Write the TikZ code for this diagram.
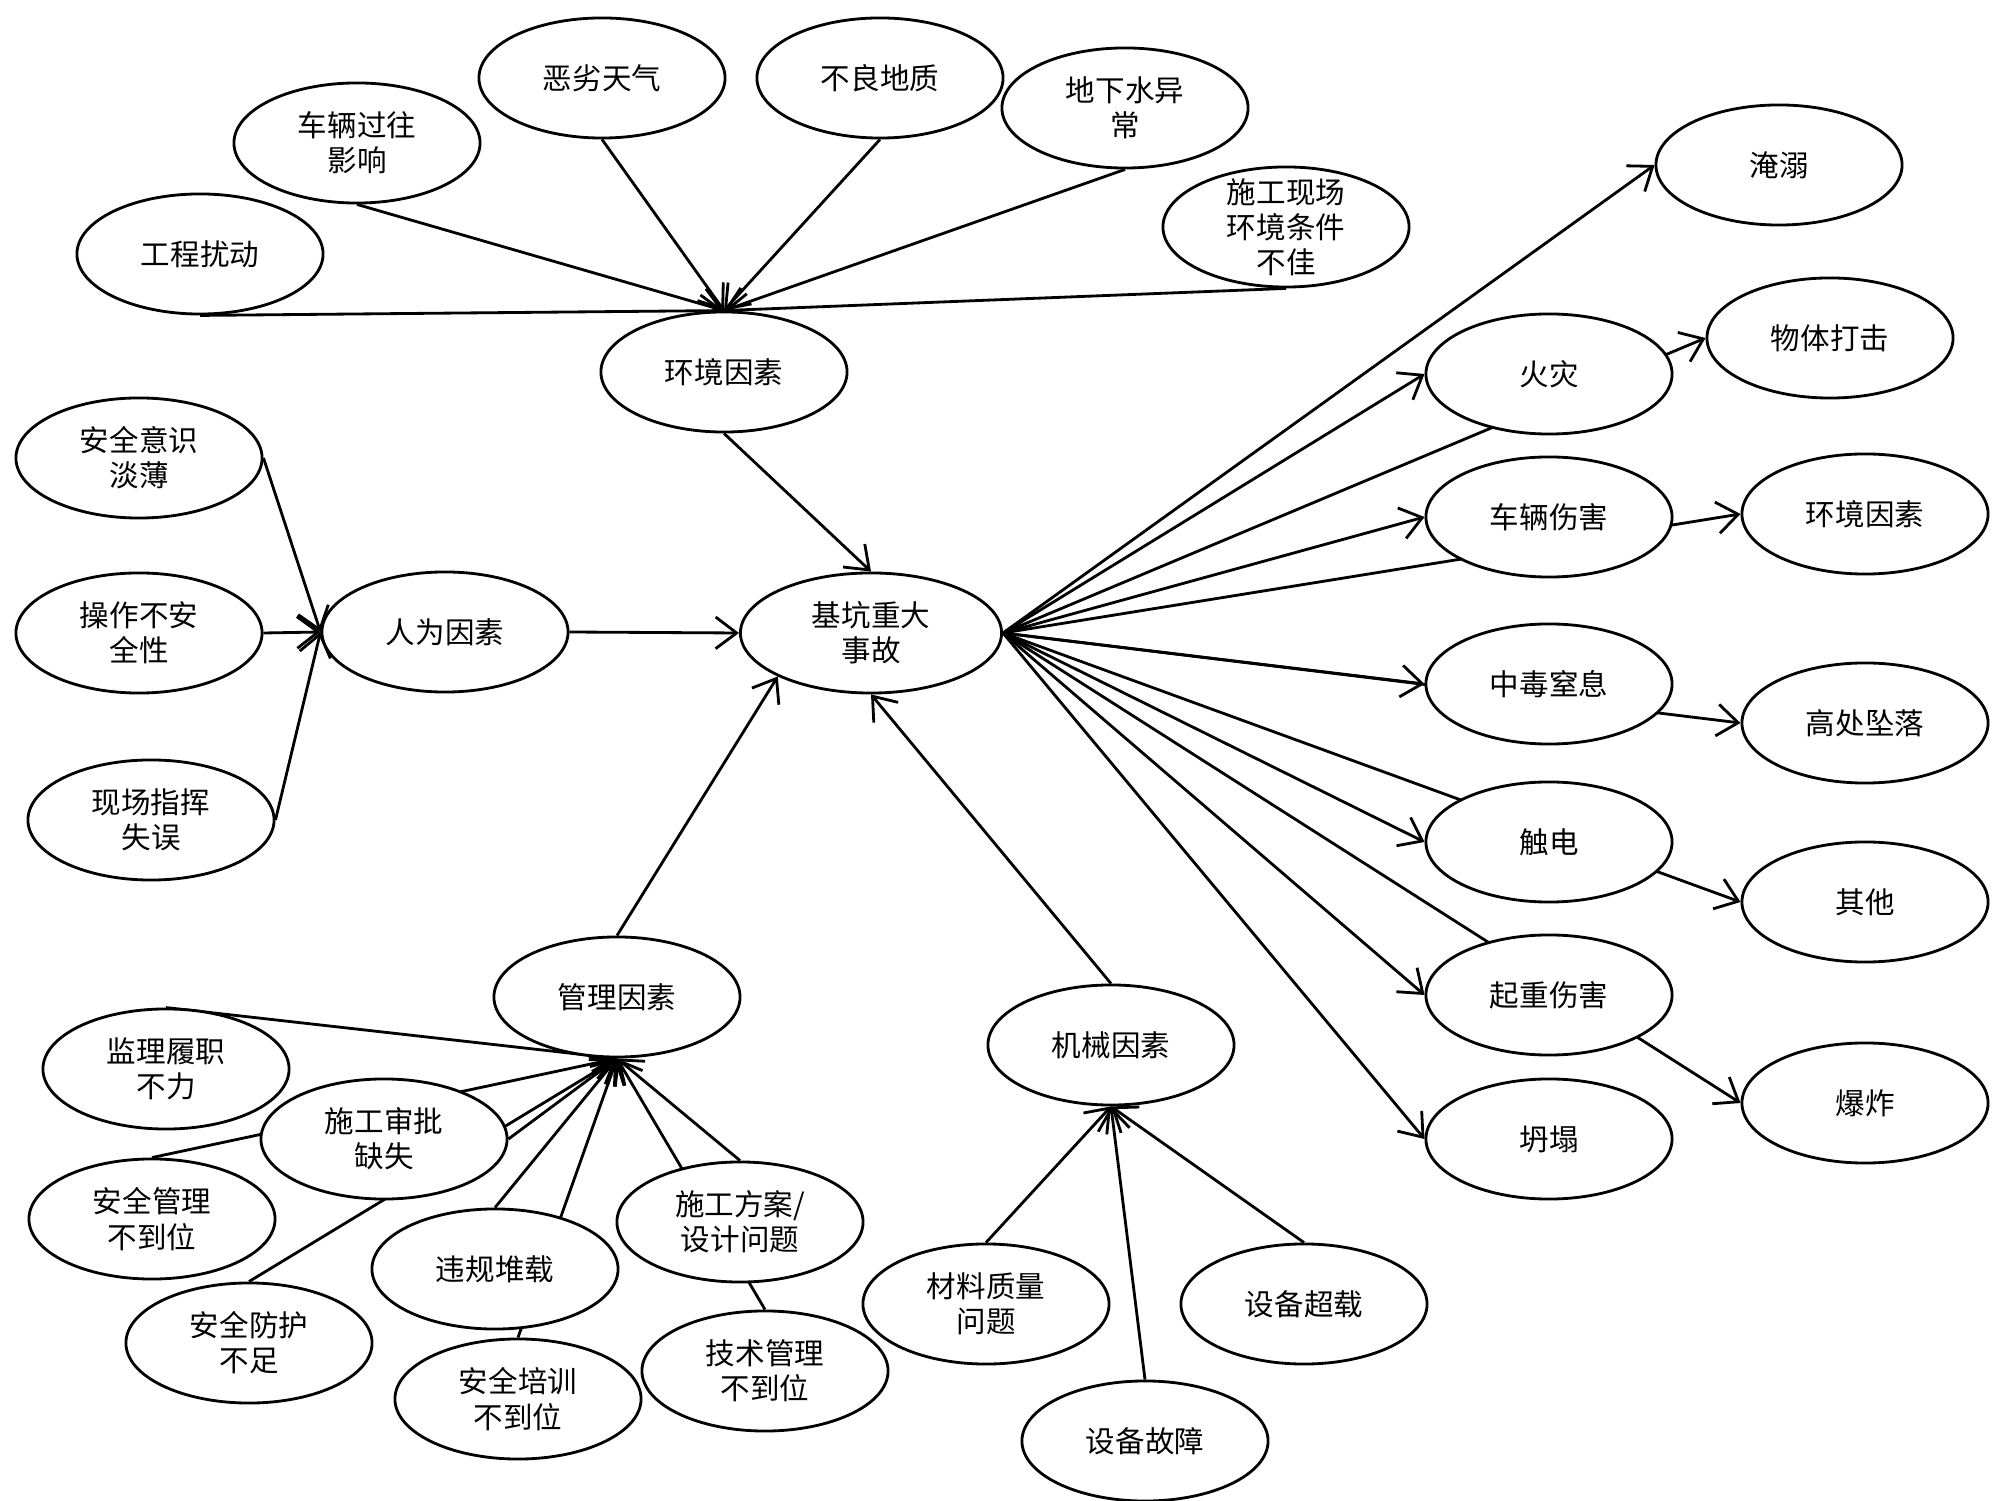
\documentclass[tikz,border=0pt]{standalone}
\usepackage{fontspec}
\newfontfamily\cjk{Noto Sans CJK SC}
\usetikzlibrary{shapes.geometric,arrows.meta,backgrounds}
\begin{document}
\begin{tikzpicture}[x=0.01cm,y=-0.01cm,
  el/.style={ellipse,draw,line width=0.8pt,fill=white,minimum width=2.46cm,minimum height=1.2cm,inner sep=0pt},
  lab/.style={font=\cjk\fontsize{8.4}{10}\selectfont,align=center,inner sep=0pt},
  arr/.style={line width=0.8pt,-{Straight Barb[length=6pt,width=9pt]}}]
\useasboundingbox (0,0) rectangle (2000,1501);
% environment
\node[el,label={[lab]center:工程扰动}] (gcrd) at (200,254) {};
\node[el,label={[lab]center:{车辆过往\\影响}}] (clgw) at (357,143) {};
\node[el,label={[lab]center:恶劣天气}] (elth) at (602,78) {};
\node[el,label={[lab]center:不良地质}] (bldz) at (880,78) {};
\node[el,label={[lab]center:{地下水异\\常}}] (dxs) at (1125,108) {};
\node[el,label={[lab]center:{施工现场\\环境条件\\不佳}}] (sgxc) at (1286,227) {};
\node[el,label={[lab]center:环境因素}] (env) at (724,372) {};
% human
\node[el,label={[lab]center:{安全意识\\淡薄}}] (aqys) at (139,458) {};
\node[el,label={[lab]center:{操作不安\\全性}}] (czbaq) at (139,633) {};
\node[el,label={[lab]center:{现场指挥\\失误}}] (xczh) at (151,820) {};
\node[el,label={[lab]center:人为因素}] (rwys) at (445,632) {};
% main
\node[el,minimum width=2.61cm,label={[lab]center:{基坑重大\\事故}}] (main) at (871,633) {};
% management
\node[el,label={[lab]center:管理因素}] (glys) at (617,997) {};
\node[el,label={[lab]center:{监理履职\\不力}}] (jlly) at (166,1069) {};
\node[el,label={[lab]center:{安全管理\\不到位}}] (aqgl) at (152,1219) {};
\node[el,label={[lab]center:{安全防护\\不足}}] (aqfh) at (249,1343) {};
\node[el,label={[lab]center:{施工审批\\缺失}}] (sgsp) at (384,1139) {};
\node[el,label={[lab]center:{安全培训\\不到位}}] (aqpx) at (518,1399) {};
\node[el,label={[lab]center:违规堆载}] (wgdz) at (495,1269) {};
\node[el,label={[lab]center:{技术管理\\不到位}}] (jsgl) at (765,1371) {};
\node[el,label={[lab]center:{施工方案/\\设计问题}}] (sgfa) at (740,1222) {};
% machine
\node[el,label={[lab]center:机械因素}] (jxys) at (1111,1045) {};
\node[el,label={[lab]center:{材料质量\\问题}}] (clzl) at (986,1304) {};
\node[el,label={[lab]center:设备超载}] (sbcz) at (1304,1304) {};
\node[el,label={[lab]center:设备故障}] (sbgz) at (1145,1441) {};
% consequences
\node[el,label={[lab]center:淹溺}] (yn) at (1779,165) {};
\node[el,label={[lab]center:火灾}] (hz) at (1549,374) {};
\node[el,label={[lab]center:物体打击}] (wtdj) at (1830,338) {};
\node[el,label={[lab]center:车辆伤害}] (clsh) at (1549,517) {};
\node[el,label={[lab]center:环境因素}] (envb) at (1865,514) {};
\node[el,label={[lab]center:中毒窒息}] (zdzx) at (1549,684) {};
\node[el,label={[lab]center:高处坠落}] (gczl) at (1865,723) {};
\node[el,label={[lab]center:触电}] (cd) at (1549,842) {};
\node[el,label={[lab]center:其他}] (qt) at (1865,902) {};
\node[el,label={[lab]center:起重伤害}] (qzsh) at (1549,995) {};
\node[el,label={[lab]center:爆炸}] (bz) at (1865,1103) {};
\node[el,label={[lab]center:坍塌}] (ct) at (1549,1139) {};
\begin{scope}[on background layer]
\fill[white] (0,0) rectangle (2000,1501);
\foreach \s in {gcrd,clgw,elth,bldz,dxs,sgxc} \draw[arr] (\s.south) -- (env.north);
\draw[arr] (env.south) -- (main.north);
\foreach \s in {aqys,czbaq,xczh} \draw[arr] (\s.east) -- (rwys.west);
\draw[arr] (rwys.east) -- (main.west);
\draw[arr] (glys.north) -- (main.205);
\draw[arr] (jxys.north) -- (main.south);
\foreach \s in {jlly,aqgl,aqfh,wgdz,aqpx,sgfa,jsgl} \draw[arr] (\s.north) -- (glys.south);
\draw[arr] (sgsp.east) -- (glys.south);
\foreach \s in {clzl,sbcz,sbgz} \draw[arr] (\s.north) -- (jxys.south);
\foreach \t in {yn,hz,wtdj,clsh,envb,zdzx,gczl,cd,qt,qzsh,bz,ct} \draw[arr] (main.east) -- (\t.west);
\end{scope}
\end{tikzpicture}
\end{document}
